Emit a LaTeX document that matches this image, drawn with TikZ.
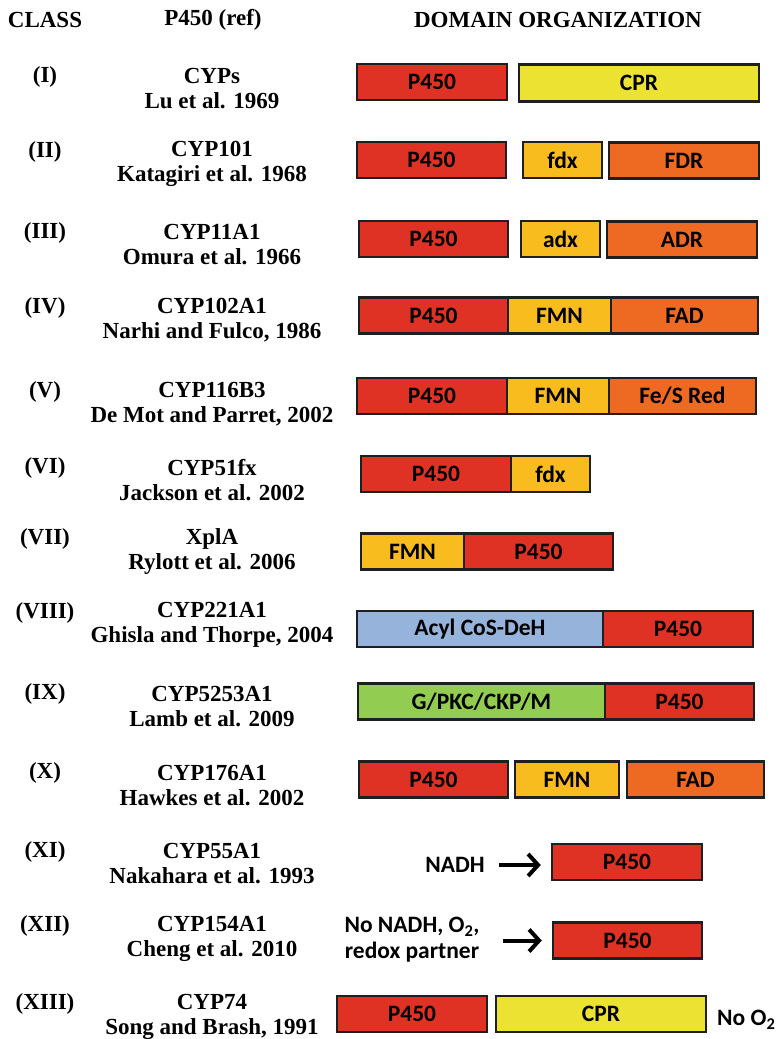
\documentclass[tikz,border=0pt]{standalone}
\usepackage{fontspec}
\setmainfont{Liberation Serif}
\newfontfamily\calib{Carlito}
\usepackage{tikz}
\usetikzlibrary{arrows.meta}
\usepackage{xcolor}
\definecolor{hemered}{RGB}{224,50,36}
\definecolor{cpryel}{RGB}{235,226,50}
\definecolor{fmnorg}{RGB}{248,188,30}
\definecolor{fadorg}{RGB}{238,106,34}
\definecolor{acylblu}{RGB}{149,179,219}
\definecolor{pkcgrn}{RGB}{146,205,82}

\begin{document}
\begin{tikzpicture}[x=1pt,y=-1pt,
  dom/.style={rectangle,draw=black!88,line width=2.4pt,minimum height=36pt,inner sep=0pt,font=\calib\bfseries\fontsize{23.5}{25}\selectfont,text=black},
  ttl/.style={font=\bfseries\fontsize{23}{25}\selectfont,text=black},
  ref/.style={font=\bfseries\fontsize{23}{25}\selectfont,align=center,text=black},
  note/.style={font=\calib\bfseries\fontsize{23.5}{26}\selectfont,align=center,inner sep=0pt,text=black},
  push/.style={line width=4pt,black,-{Straight Barb[length=10pt,width=22pt]}}]
\useasboundingbox (0,0) rectangle (779,1039);
% headers
\node[ttl] at (45,20) (hclass) {CLASS};
\node[ttl] at (213,20) (href) {P450 (ref)};
\node[ttl] at (558,20) (hdom) {DOMAIN ORGANIZATION};
% class labels
\node[ttl] at (45,77) (c1) {(I)};
\node[ttl] at (45,152) (c2) {(II)};
\node[ttl] at (45,233) (c3) {(III)};
\node[ttl] at (45,308) (c4) {(IV)};
\node[ttl] at (45,392) (c5) {(V)};
\node[ttl] at (45,468) (c6) {(VI)};
\node[ttl] at (45,539) (c7) {(VII)};
\node[ttl] at (45,613) (c8) {(VIII)};
\node[ttl] at (45,694) (c9) {(IX)};
\node[ttl] at (45,773) (c10) {(X)};
\node[ttl] at (45,852) (c11) {(XI)};
\node[ttl] at (45,926) (c12) {(XII)};
\node[ttl] at (45,1004) (c13) {(XIII)};
% enzymes and references
\node[ref] at (212,88.5) (r1) {CYPs\\Lu et al. 1969};
\node[ref] at (212,163.5) (r2) {CYP101\\Katagiri et al. 1968};
\node[ref] at (212,245) (r3) {CYP11A1\\Omura et al. 1966};
\node[ref] at (212,320.5) (r4) {CYP102A1\\Narhi and Fulco, 1986};
\node[ref] at (212,404) (r5) {CYP116B3\\De Mot and Parret, 2002};
\node[ref] at (212,480) (r6) {CYP51fx\\Jackson et al. 2002};
\node[ref] at (212,551.5) (r7) {XplA\\Rylott et al. 2006};
\node[ref] at (212,624.5) (r8) {CYP221A1\\Ghisla and Thorpe, 2004};
\node[ref] at (212,706.5) (r9) {CYP5253A1\\Lamb et al. 2009};
\node[ref] at (212,785.5) (r10) {CYP176A1\\Hawkes et al. 2002};
\node[ref] at (212,864) (r11) {CYP55A1\\Nakahara et al. 1993};
\node[ref] at (212,938.5) (r12) {CYP154A1\\Cheng et al. 2010};
\node[ref] at (212,1016.5) (r13) {CYP74\\Song and Brash, 1991};
% domains
\node[dom,fill=hemered,minimum width=150] at (432,82) (p1) {P450};
\node[dom,fill=cpryel,minimum width=240,minimum height=37] at (639,83) (cpr1) {CPR};
\node[dom,fill=hemered,minimum width=149] at (431.5,160) (p2) {P450};
\node[dom,fill=fmnorg,minimum width=79] at (562.5,160) (fdx2) {fdx};
\node[dom,fill=fadorg,minimum width=150] at (684,160.5) (fdr2) {FDR};
\node[dom,fill=hemered,minimum width=149] at (433.5,239) (p3) {P450};
\node[dom,fill=fmnorg,minimum width=79] at (560.5,239) (adx3) {adx};
\node[dom,fill=fadorg,minimum width=150] at (682,239.5) (adr3) {ADR};
\node[dom,fill=hemered,minimum width=149] at (433.5,315.5) (p4) {P450};
\node[dom,fill=fmnorg,minimum width=103] at (559.5,315.5) (fmn4) {FMN};
\node[dom,fill=fadorg,minimum width=147] at (684.5,315.5) (fad4) {FAD};
\node[dom,fill=hemered,minimum width=150] at (432,396) (p5) {P450};
\node[dom,fill=fmnorg,minimum width=102] at (558,396) (fmn5) {FMN};
\node[dom,fill=fadorg,minimum width=147] at (682.5,396) (fes5) {Fe/S Red};
\node[dom,fill=hemered,minimum width=150] at (436,474) (p6) {P450};
\node[dom,fill=fmnorg,minimum width=79] at (550.5,474) (fdx6) {fdx};
\node[dom,fill=fmnorg,minimum width=103] at (412.5,551.5) (fmn7) {FMN};
\node[dom,fill=hemered,minimum width=149] at (538.5,551.5) (p7) {P450};
\node[dom,fill=acylblu,minimum width=246] at (480,629) (acyl8) {Acyl CoS-DeH};
\node[dom,fill=hemered,minimum width=150] at (678,629) (p8) {P450};
\node[dom,fill=pkcgrn,minimum width=247] at (481.5,701.5) (pkc9) {G/PKC/CKP/M};
\node[dom,fill=hemered,minimum width=149] at (679.5,701.5) (p9) {P450};
\node[dom,fill=hemered,minimum width=149] at (433.5,779.5) (p10) {P450};
\node[dom,fill=fmnorg,minimum width=104] at (567,779.5) (fmn10) {FMN};
\node[dom,fill=fadorg,minimum width=137] at (695.5,779.5) (fad10) {FAD};
\node[dom,fill=hemered,minimum width=150] at (627,862) (p11) {P450};
\node[dom,fill=hemered,minimum width=149] at (627.5,940.5) (p12) {P450};
\node[dom,fill=hemered,minimum width=150] at (412,1014) (p13) {P450};
\node[dom,fill=cpryel,minimum width=210] at (601,1014) (cpr13) {CPR};
% electron sources
\node[note,anchor=east] at (485,865) (nadh) {NADH};
\node[note] at (412,940) (nonadh) {No NADH, O\textsubscript{2},\\redox partner};
\node[note,anchor=west] at (717,1020) (noox) {No O\textsubscript{2}};
\draw[push,shorten <=14pt,shorten >=10pt] (nadh.east) -- (nadh.east -| p11.west);
\draw[push,shorten <=23pt,shorten >=10pt] (nonadh.east |- p12.west) -- (p12.west);
\end{tikzpicture}
\end{document}
